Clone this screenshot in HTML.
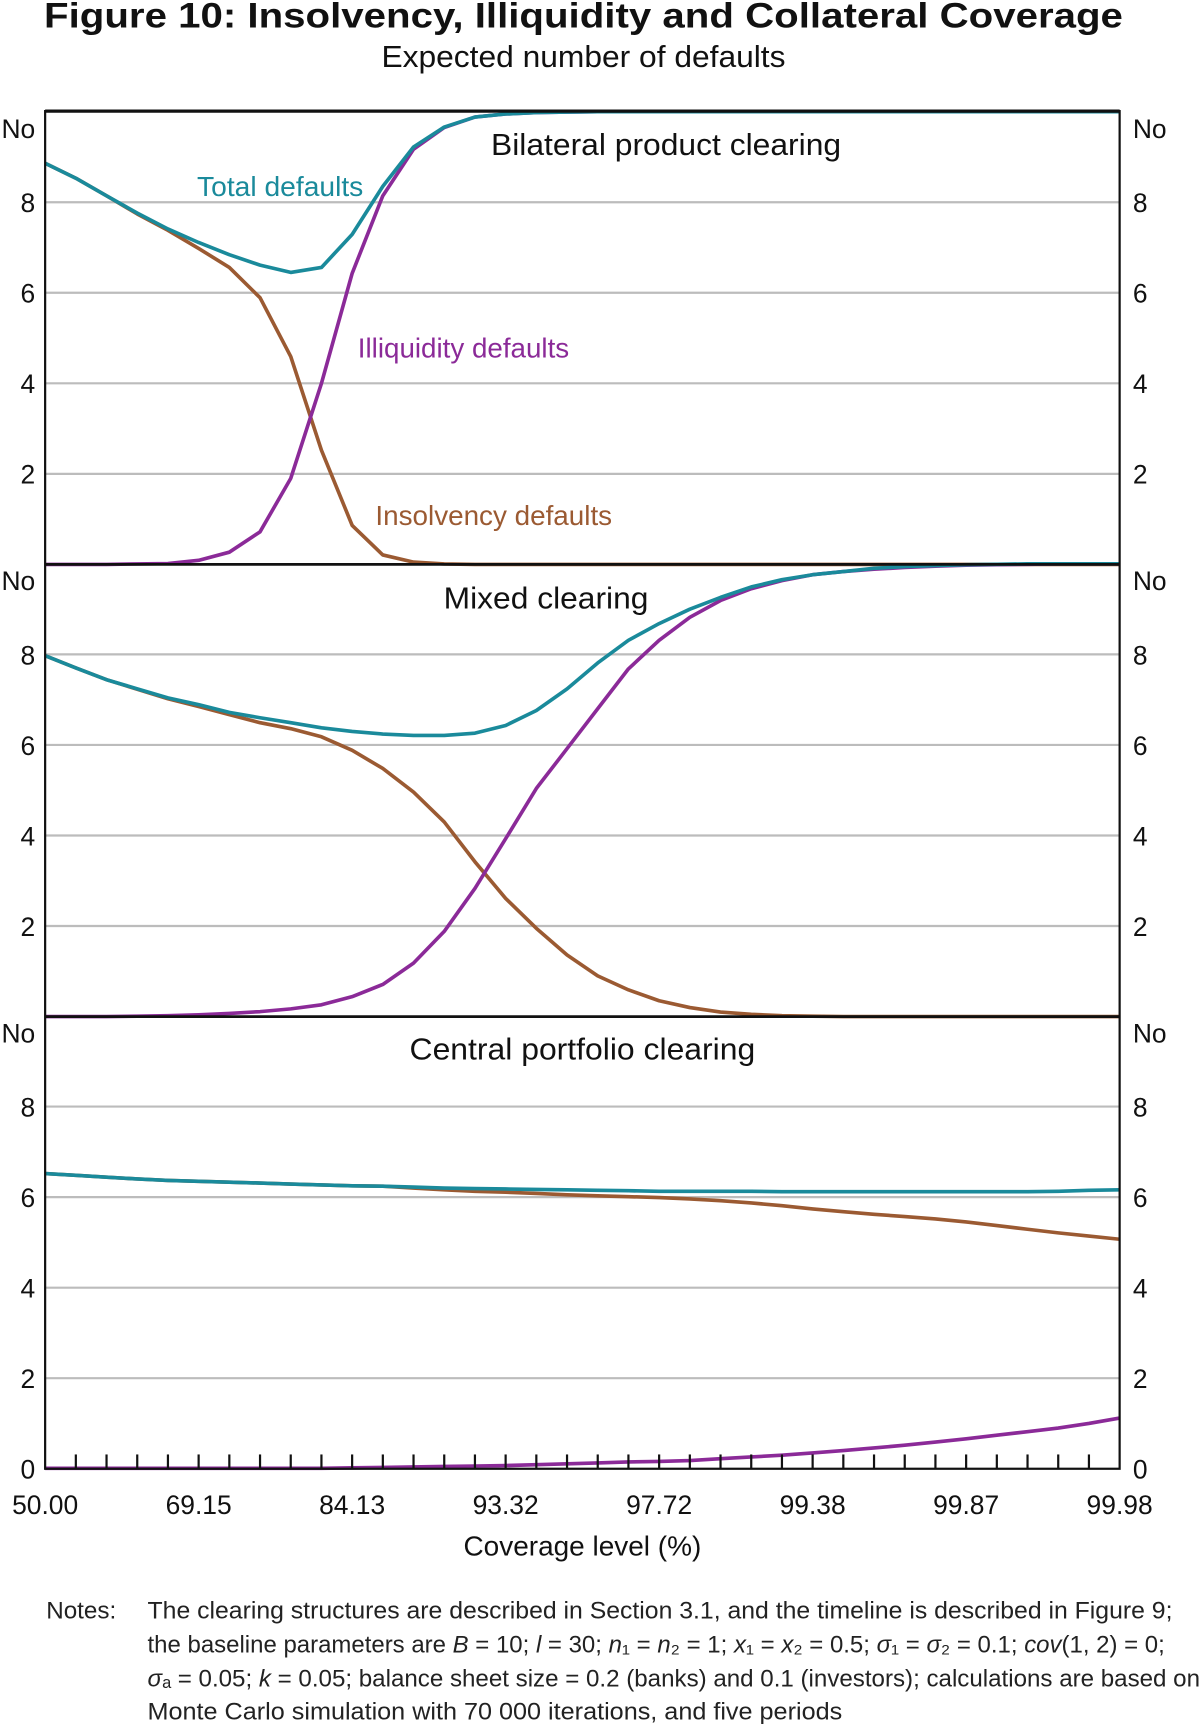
<!DOCTYPE html>
<html><head><meta charset="utf-8"><style>
html,body{margin:0;padding:0;background:#fff;}
svg{display:block;font-family:"Liberation Sans",Arial,sans-serif;}
</style></head><body>
<svg id="chart" width="1200" height="1724" viewBox="0 0 1090 1567" preserveAspectRatio="none" xmlns="http://www.w3.org/2000/svg">
<text x="530" y="25" text-anchor="middle" font-size="32" font-weight="bold" textLength="980" lengthAdjust="spacingAndGlyphs" fill="#111">Figure 10: Insolvency, Illiquidity and Collateral Coverage</text>
<text x="530" y="61" text-anchor="middle" font-size="28" textLength="367" lengthAdjust="spacingAndGlyphs" fill="#111">Expected number of defaults</text>
<g id="grid"></g>
<g id="series"></g>
<g id="frame"></g>
<g id="labels"></g>
<text x="605" y="141" text-anchor="middle" font-size="28" textLength="318" lengthAdjust="spacingAndGlyphs" fill="#111">Bilateral product clearing</text>
<text x="496" y="553" text-anchor="middle" font-size="28" textLength="186" lengthAdjust="spacingAndGlyphs" fill="#111">Mixed clearing</text>
<text x="529" y="963" text-anchor="middle" font-size="28" textLength="314" lengthAdjust="spacingAndGlyphs" fill="#111">Central portfolio clearing</text>
<text x="179" y="178" font-size="25" textLength="151" lengthAdjust="spacingAndGlyphs" fill="#1a8a9b">Total defaults</text>
<text x="325" y="325" font-size="25" textLength="192" lengthAdjust="spacingAndGlyphs" fill="#8b2a98">Illiquidity defaults</text>
<text x="341" y="477" font-size="25" textLength="215" lengthAdjust="spacingAndGlyphs" fill="#9b5a32">Insolvency defaults</text>
<text x="529" y="1414" text-anchor="middle" font-size="25" textLength="216" lengthAdjust="spacingAndGlyphs" fill="#111">Coverage level (%)</text>
<g font-size="22" fill="#222">
<text x="42" y="1471">Notes:</text>
<text x="134" y="1471" textLength="931" lengthAdjust="spacingAndGlyphs">The clearing structures are described in Section 3.1, and the timeline is described in Figure 9;</text>
<text x="134" y="1502" textLength="924" lengthAdjust="spacingAndGlyphs">the baseline parameters are <tspan font-style="italic">B</tspan> = 10; <tspan font-style="italic">l</tspan> = 30; <tspan font-style="italic">n</tspan>₁ = <tspan font-style="italic">n</tspan>₂ = 1; <tspan font-style="italic">x</tspan>₁ = <tspan font-style="italic">x</tspan>₂ = 0.5; <tspan font-style="italic">σ</tspan>₁ = <tspan font-style="italic">σ</tspan>₂ = 0.1; <tspan font-style="italic">cov</tspan>(1, 2) = 0;</text>
<text x="134" y="1533" textLength="956" lengthAdjust="spacingAndGlyphs"><tspan font-style="italic">σ</tspan>ₐ = 0.05; <tspan font-style="italic">k</tspan> = 0.05; balance sheet size = 0.2 (banks) and 0.1 (investors); calculations are based on</text>
<text x="134" y="1563" textLength="631" lengthAdjust="spacingAndGlyphs">Monte Carlo simulation with 70 000 iterations, and five periods</text>
</g>
</svg>
<script>
const xTickLabels = ["50.00","69.15","84.13","93.32","97.72","99.38","99.87","99.98"];
const yTickLabels = ["0","2","4","6","8","No"];
const total1 = [8.86,8.53,8.14,7.76,7.41,7.11,6.84,6.61,6.45,6.56,7.29,8.35,9.22,9.66,9.88,9.95,9.98,9.99,10,10,10,10,10,10,10,10,10,10,10,10,10,10,10,10,10,10];
const insol1 = [8.86,8.53,8.14,7.74,7.38,6.98,6.56,5.89,4.59,2.52,0.86,0.21,0.05,0.01,0,0,0,0,0,0,0,0,0,0,0,0,0,0,0,0,0,0,0,0,0,0];
const illiq1 = [0,0,0,0.01,0.02,0.09,0.27,0.72,1.9,4.0,6.43,8.14,9.17,9.65,9.88,9.95,9.98,9.99,10,10,10,10,10,10,10,10,10,10,10,10,10,10,10,10,10,10];
const total2 = [7.97,7.70,7.44,7.24,7.04,6.89,6.72,6.6,6.49,6.38,6.3,6.24,6.21,6.21,6.26,6.43,6.76,7.24,7.81,8.31,8.68,9.0,9.26,9.49,9.65,9.76,9.83,9.9,9.94,9.96,9.98,9.99,10,10,10,10];
const insol2 = [7.97,7.70,7.44,7.23,7.02,6.85,6.67,6.49,6.36,6.18,5.88,5.48,4.96,4.30,3.42,2.61,1.95,1.36,0.9,0.59,0.35,0.2,0.1,0.05,0.02,0.01,0,0,0,0,0,0,0,0,0,0];
const illiq2 = [0,0,0,0.01,0.02,0.04,0.07,0.11,0.17,0.26,0.44,0.71,1.18,1.88,2.83,3.93,5.04,5.92,6.8,7.68,8.31,8.82,9.19,9.45,9.63,9.76,9.83,9.88,9.92,9.95,9.97,9.98,9.99,10,10,10];
const total3 = [6.52,6.48,6.44,6.40,6.37,6.35,6.33,6.31,6.29,6.27,6.25,6.24,6.22,6.2,6.19,6.18,6.17,6.16,6.15,6.14,6.13,6.13,6.13,6.13,6.12,6.12,6.12,6.12,6.12,6.12,6.12,6.12,6.12,6.13,6.15,6.16];
const insol3 = [6.52,6.48,6.44,6.40,6.37,6.35,6.33,6.31,6.29,6.27,6.25,6.24,6.2,6.16,6.13,6.11,6.08,6.05,6.03,6.01,5.99,5.96,5.92,5.87,5.81,5.74,5.68,5.62,5.57,5.52,5.45,5.37,5.29,5.21,5.14,5.07];
const illiq3 = [0.01,0.01,0.01,0.01,0.01,0.01,0.01,0.01,0.01,0.01,0.02,0.03,0.04,0.05,0.06,0.07,0.09,0.11,0.13,0.15,0.16,0.18,0.22,0.26,0.3,0.35,0.4,0.46,0.52,0.59,0.66,0.74,0.82,0.9,1.0,1.12];

const NS = "http://www.w3.org/2000/svg";
const L = 41, R = 1017, N = 36;
const panelBottoms = [513, 924, 1335];
const unit = 41.15;
function xPos(i){ return L + (R - L) * i / (N - 1); }
function yPos(p, v){ return panelBottoms[p] - v * unit; }
function mk(tag, parent, attrs){ const e = document.createElementNS(NS, tag); for (const k in attrs) e.setAttribute(k, attrs[k]); parent.appendChild(e); return e; }

const grid = document.getElementById('grid');
const series = document.getElementById('series');
const frame = document.getElementById('frame');
const labels = document.getElementById('labels');

for (let p = 0; p < 3; p++) {
  for (let v = 2; v <= 8; v += 2) {
    const g = mk('line', grid, {x1:L, x2:R, y1:yPos(p,v), y2:yPos(p,v), stroke:'#bcbcbc', 'stroke-width':2});
    
    
  }
  yTickLabels.forEach((t, k) => {
    if (t === "0" && p < 2) return;
    const yy = yPos(p, k * 2) + 9 + (t === "No" ? 15 : 0);
    const a = mk('text', labels, {x:32, y:yy, 'text-anchor':'end', 'font-size':24, fill:'#111'});
    a.textContent = t;
    
    
    const b = mk('text', labels, {x:1029, y:yy, 'font-size':24, fill:'#111'});
    b.textContent = t;
    
    
  });
}

const sets = [[insol1, illiq1, total1], [insol2, illiq2, total2], [insol3, illiq3, total3]];
const colors = ['#9b5a32', '#8b2a98', '#1a8a9b'];
const names = ['insolvency-defaults-line', 'illiquidity-defaults-line', 'total-defaults-line'];
sets.forEach((s, p) => {
  s.forEach((arr, j) => {
    const pts = arr.map((v, i) => xPos(i).toFixed(1) + ',' + yPos(p, v).toFixed(1)).join(' ');
    const pl = mk('polyline', series, {points:pts, fill:'none', stroke:colors[j], 'stroke-width':3.3, 'stroke-linejoin':'round'});
    
    
  });
});

const fr = mk('rect', frame, {x:L, y:101, width:R-L, height:1335-101, fill:'none', stroke:'#111', 'stroke-width':2});


const topLine = mk('line', frame, {x1:L, x2:R, y1:101, y2:101, stroke:'#111', 'stroke-width':3});


[513, 924].forEach(y => {
  const s = mk('line', frame, {x1:L, x2:R, y1:y, y2:y, stroke:'#111', 'stroke-width':2.5});
  
  
});
for (let i = 1; i < N - 1; i++) {
  const t = mk('line', frame, {x1:xPos(i), x2:xPos(i), y1:1335, y2:1322, stroke:'#111', 'stroke-width':2});
  
  
}
xTickLabels.forEach((t, k) => {
  const e = mk('text', labels, {x:xPos(k * 5), y:1376, 'text-anchor':'middle', 'font-size':24, fill:'#111'});
  e.textContent = t;
  
  
});
</script>
</body></html>
